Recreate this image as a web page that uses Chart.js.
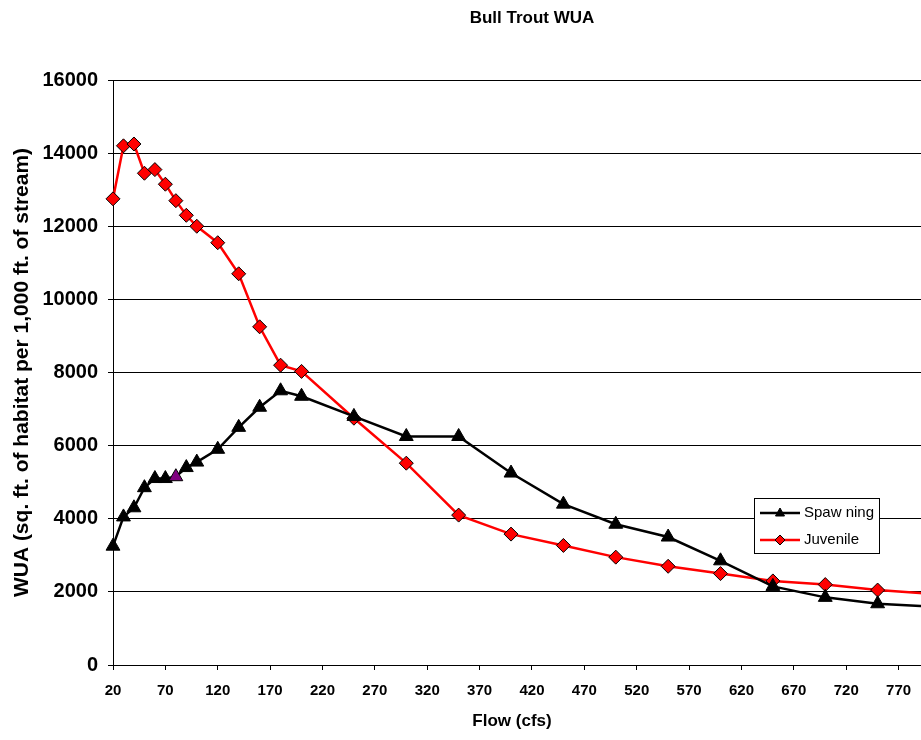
<!DOCTYPE html>
<html>
<head>
<meta charset="utf-8">
<script src="https://cdn.jsdelivr.net/npm/chart.js@4/dist/chart.umd.min.js"></script>
<style>
html,body{margin:0;padding:0;background:#fff;overflow:hidden;width:921px;height:740px;}
canvas{display:block;}
</style>
</head>
<body>
<canvas id="c" width="940" height="740"></canvas>
<script>
const titleText = 'Bull Trout WUA';
const xTitle = 'Flow (cfs)';
const yTitle = 'WUA (sq. ft. of habitat per 1,000 ft. of stream)';
const seriesNames = ['Spaw ning', 'Juvenile'];

const flows = [20,30,40,50,60,70,80,90,100,120,140,160,180,200,250,300,350,400,450,500,550,600,650,700,750,800];
const spawning = [3250,4050,4300,4850,5100,5100,5150,5400,5550,5900,6500,7050,7500,7350,6800,6250,6250,5250,4400,3850,3500,2850,2150,1850,1675,1600];
const juvenile = [12750,14200,14250,13450,13550,13150,12700,12300,12000,11550,10700,9250,8200,8030,6750,5520,4100,3580,3270,2950,2700,2500,2300,2200,2050,1950];

const xTicks = [20,70,120,170,220,270,320,370,420,470,520,570,620,670,720,770];
const yTicks = [0,2000,4000,6000,8000,10000,12000,14000,16000];

const FONT = "'Liberation Sans', Arial, sans-serif";
Chart.defaults.font.family = FONT;
Chart.defaults.color = '#000';

const spawnColors = flows.map(f => f === 80 ? '#800080' : '#000000');

const decor = {
  id: 'decor',
  afterDraw(chart) {
    const ctx = chart.ctx;
    ctx.save();
    ctx.fillStyle = '#000';
    ctx.font = 'bold 17px ' + FONT;
    ctx.textAlign = 'center';
    ctx.textBaseline = 'middle';
    ctx.fillText(titleText, 532, 18);
    ctx.fillText(xTitle, 512, 721);

    // legend box
    const bx = 754, by = 498, bw = 125, bh = 55;
    ctx.fillStyle = '#fff';
    ctx.fillRect(bx, by, bw, bh);
    ctx.strokeStyle = '#000';
    ctx.lineWidth = 1;
    ctx.strokeRect(bx + 0.5, by + 0.5, bw, bh);

    const rows = [
      {y: by + 15, color: '#000', mark: 'tri', fill: '#000'},
      {y: by + 42, color: '#ff0000', mark: 'dia', fill: '#ff0000'}
    ];
    rows.forEach((r, i) => {
      ctx.strokeStyle = r.color;
      ctx.lineWidth = 2.5;
      ctx.beginPath();
      ctx.moveTo(bx + 6, r.y);
      ctx.lineTo(bx + 46, r.y);
      ctx.stroke();
      const cx = bx + 26;
      ctx.beginPath();
      if (r.mark === 'tri') {
        ctx.moveTo(cx, r.y - 5);
        ctx.lineTo(cx + 4.5, r.y + 3);
        ctx.lineTo(cx - 4.5, r.y + 3);
      } else {
        ctx.moveTo(cx, r.y - 5);
        ctx.lineTo(cx + 5, r.y);
        ctx.lineTo(cx, r.y + 5);
        ctx.lineTo(cx - 5, r.y);
      }
      ctx.closePath();
      ctx.fillStyle = r.fill;
      ctx.fill();
      ctx.strokeStyle = '#000';
      ctx.lineWidth = 1;
      ctx.stroke();
      ctx.fillStyle = '#000';
      ctx.font = '15px ' + FONT;
      ctx.textAlign = 'left';
      ctx.textBaseline = 'middle';
      ctx.fillText(seriesNames[i], bx + 50, r.y);
    });
    ctx.restore();
  }
};

new Chart(document.getElementById('c'), {
  type: 'line',
  data: {
    datasets: [
      {
        label: seriesNames[0],
        data: flows.map((f, i) => ({x: f, y: spawning[i]})),
        borderColor: '#000',
        borderWidth: 2.5,
        tension: 0,
        clip: false,
        pointStyle: 'triangle',
        pointRadius: 8,
        pointBackgroundColor: spawnColors,
        pointBorderColor: '#000',
        pointBorderWidth: 1
      },
      {
        label: seriesNames[1],
        data: flows.map((f, i) => ({x: f, y: juvenile[i]})),
        borderColor: '#ff0000',
        borderWidth: 2.5,
        tension: 0,
        clip: false,
        pointStyle: 'rectRot',
        pointRadius: 7,
        pointBackgroundColor: '#ff0000',
        pointBorderColor: '#000',
        pointBorderWidth: 1
      }
    ]
  },
  options: {
    responsive: false,
    animation: false,
    layout: {padding: {left: 10, top: 80, right: 10, bottom: 0}},
    plugins: {
      legend: {display: false},
      title: {display: false},
      tooltip: {enabled: false}
    },
    scales: {
      x: {
        type: 'linear',
        min: 20,
        max: 800,
        afterBuildTicks: s => { s.ticks = xTicks.map(v => ({value: v})); },
        afterFit: s => { s.height = 75; },
        ticks: {
          font: {size: 15, weight: 'bold'},
          padding: 12,
          maxRotation: 0,
          autoSkip: false,
          callback: v => String(v)
        },
        grid: {drawOnChartArea: false, drawTicks: true, tickLength: 5, color: '#000'},
        border: {display: true, color: '#000', width: 1},
        title: {display: false}
      },
      y: {
        min: 0,
        max: 16000,
        afterBuildTicks: s => { s.ticks = yTicks.map(v => ({value: v})); },
        afterFit: s => { s.width = 103; },
        ticks: {
          font: {size: 20, weight: 'bold'},
          padding: 10,
          callback: v => String(v)
        },
        grid: {color: '#000', lineWidth: 1, tickLength: 5},
        border: {display: true, color: '#000', width: 1},
        title: {display: true, text: yTitle, font: {size: 21, weight: 'bold'}, padding: {top: 0, bottom: 0}}
      }
    }
  },
  plugins: [decor]
});
</script>
</body>
</html>
